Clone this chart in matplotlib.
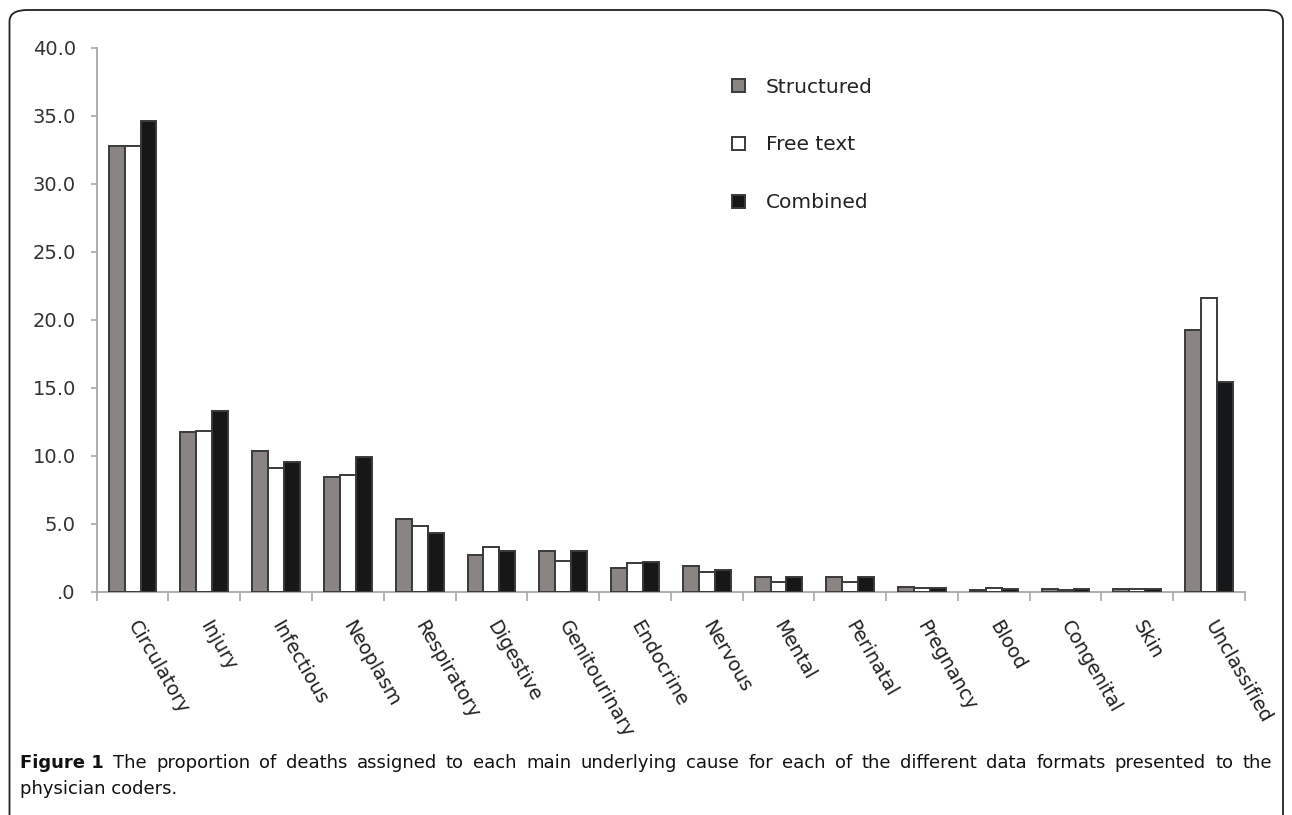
import matplotlib
matplotlib.use("Agg")
import matplotlib.pyplot as plt
import matplotlib.transforms as mtransforms
import numpy as np
from matplotlib.patches import FancyBboxPatch

categories = ["Circulatory", "Injury", "Infectious", "Neoplasm", "Respiratory",
              "Digestive", "Genitourinary", "Endocrine", "Nervous", "Mental",
              "Perinatal", "Pregnancy", "Blood", "Congenital", "Skin", "Unclassified"]
structured = [32.8, 11.7, 10.3, 8.4, 5.3, 2.7, 3.0, 1.75, 1.85, 1.05, 1.07, 0.34, 0.10, 0.17, 0.17, 19.2]
free_text  = [32.8, 11.8, 9.1, 8.6, 4.8, 3.3, 2.25, 2.1, 1.47, 0.68, 0.68, 0.24, 0.28, 0.10, 0.15, 21.6]
combined   = [34.6, 13.3, 9.5, 9.9, 4.3, 3.0, 2.95, 2.18, 1.6, 1.07, 1.03, 0.24, 0.17, 0.15, 0.17, 15.4]
series_names = ["Structured", "Free text", "Combined"]
series_colors = ["#8a8482", "#ffffff", "#161719"]
yticks = [0, 5, 10, 15, 20, 25, 30, 35, 40]
ytick_labels = [".0", "5.0", "10.0", "15.0", "20.0", "25.0", "30.0", "35.0", "40.0"]
caption_bold = "Figure 1"
caption_line1 = "The proportion of deaths assigned to each main underlying cause for each of the different data formats presented to the"
caption_line2 = "physician coders."

FONT = "DejaVu Sans"
W, H = 1292, 815
fig = plt.figure(figsize=(W / 100, H / 100), dpi=100)

# rounded border
border = FancyBboxPatch((9.5 / W, -0.05), (1283 - 9.5) / W, (815 - 10) / H + 0.05,
                        boxstyle="round,pad=0,rounding_size=0.014",
                        transform=fig.transFigure, fill=False,
                        edgecolor="#222222", linewidth=1.3)
fig.patches.append(border)

ax = fig.add_axes([96.7 / W, 1 - 591.5 / H, (1245 - 96.7) / W, (591.5 - 47.7) / H])
x = np.arange(len(categories))
bw = 0.222
for i, (vals, name, col) in enumerate(zip([structured, free_text, combined], series_names, series_colors)):
    ax.bar(x + (i - 1) * bw, vals, width=bw, color=col, edgecolor="#3a3a3a",
           linewidth=1.4, label=name, zorder=3)

ax.set_xlim(-0.5, len(categories) - 0.5)
ax.set_ylim(0, 40)
for s in ["top", "right"]:
    ax.spines[s].set_visible(False)
for s in ["left", "bottom"]:
    ax.spines[s].set_color("#a8a8a8")
    ax.spines[s].set_linewidth(1.3)

ax.set_yticks(yticks)
ax.set_yticklabels(ytick_labels, fontfamily=FONT, fontsize=14, color="#333333")
ax.tick_params(axis="y", length=4.5, width=1.2, color="#a8a8a8", pad=10.5)

ax.set_xticks(np.arange(len(categories) + 1) - 0.5)
ax.set_xticklabels([])
ax.tick_params(axis="x", which="major", length=6.5, width=1.2, color="#a8a8a8")
ax.set_xticks(x, minor=True)
ax.set_xticklabels(categories, minor=True, rotation=-60, ha="left", va="top",
                   rotation_mode="anchor", fontfamily=FONT, fontsize=13.8, color="#222222")
ax.tick_params(axis="x", which="minor", length=0, pad=19)
offset = mtransforms.ScaledTranslation(8 / 100, 0, fig.dpi_scale_trans)
for lbl in ax.get_xticklabels(minor=True):
    lbl.set_transform(lbl.get_transform() + offset)

leg = ax.legend(loc="upper left", bbox_to_anchor=(0.553, 0.945), frameon=False,
                prop={"family": FONT, "size": 14.5}, handlelength=0.65, handleheight=0.65,
                labelspacing=1.93, handletextpad=1.05, borderpad=0, borderaxespad=0)
for t in leg.get_texts():
    t.set_color("#222222")

# caption, justified first line
fig.canvas.draw()
renderer = fig.canvas.get_renderer()
left_px, right_px = 20, 1272
y1 = 1 - 768 / H
y2 = 1 - 794 / H
base = 12.0
probe = fig.text(0, 0, caption_bold + " " + caption_line1, fontfamily=FONT, fontsize=base)
pw = probe.get_window_extent(renderer).width
probe.remove()
cap_size = min(base * (right_px - left_px) / pw * 0.99, 13.0)
tb = fig.text(left_px / W, y1, caption_bold, fontfamily=FONT, fontweight="bold",
              fontsize=cap_size, va="baseline", color="#111111")
objs = [tb]
for w in caption_line1.split():
    objs.append(fig.text(0, y1, w, fontfamily=FONT, fontsize=cap_size, va="baseline", color="#111111"))
widths = [o.get_window_extent(renderer).width for o in objs]
gap = (right_px - left_px - sum(widths)) / (len(objs) - 1)
cur = left_px
for o, wd in zip(objs, widths):
    o.set_x(cur / W)
    cur += wd + gap
fig.text(left_px / W, y2, caption_line2, fontfamily=FONT, fontsize=cap_size,
         va="baseline", color="#111111")

fig.savefig("out.png", dpi=100)
